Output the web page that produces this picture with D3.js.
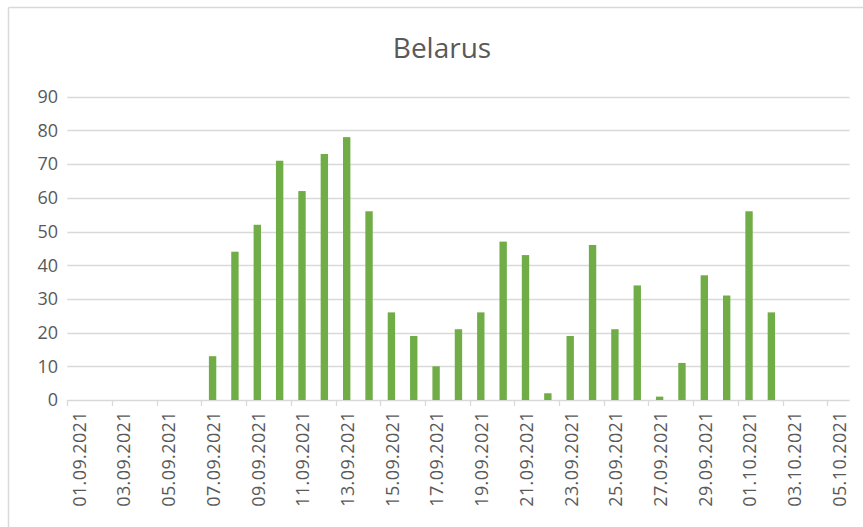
<!DOCTYPE html>
<html>
<head>
<meta charset="utf-8">
<script src="https://cdn.jsdelivr.net/npm/d3@7"></script>
<style>
  html, body { margin: 0; padding: 0; background: #fff; }
  svg { display: block; }
  text { font-family: "Open Sans", "Liberation Sans", sans-serif; fill: #595959; }
</style>
</head>
<body>
<svg id="chart" width="863" height="527"></svg>
<script>
// chart data
const days = [
  "01.09.2021", "02.09.2021", "03.09.2021", "04.09.2021", "05.09.2021",
  "06.09.2021", "07.09.2021", "08.09.2021", "09.09.2021", "10.09.2021",
  "11.09.2021", "12.09.2021", "13.09.2021", "14.09.2021", "15.09.2021",
  "16.09.2021", "17.09.2021", "18.09.2021", "19.09.2021", "20.09.2021",
  "21.09.2021", "22.09.2021", "23.09.2021", "24.09.2021", "25.09.2021",
  "26.09.2021", "27.09.2021", "28.09.2021", "29.09.2021", "30.09.2021",
  "01.10.2021", "02.10.2021", "03.10.2021", "04.10.2021", "05.10.2021"
];
const counts = [
  0, 0, 0, 0, 0,
  0, 13, 44, 52, 71,
  62, 73, 78, 56, 26,
  19, 10, 21, 26, 47,
  43, 2, 19, 46, 21,
  34, 1, 11, 37, 31,
  56, 26, 0, 0, 0
];
const yTicks = [0, 10, 20, 30, 40, 50, 60, 70, 80, 90];
const title = "Belarus";

(function() {
  const svg = d3.select("#chart");
  const left = 67.3, right = 849.6, top = 96.7, bottom = 400;
  const grey = "#d9d9d9";

  // chart area border (cropped screenshot: only top & left visible)
  svg.append("line")
    .attr("x1", 8.5).attr("x2", 863).attr("y1", 7.5).attr("y2", 7.5)
    .attr("stroke", grey).attr("stroke-width", 1.5);
  svg.append("line")
    .attr("x1", 8.5).attr("x2", 8.5).attr("y1", 7.5).attr("y2", 527)
    .attr("stroke", grey).attr("stroke-width", 1.5);

  const x = d3.scaleBand()
    .domain(days)
    .range([left, right])
    .paddingInner(0.67)
    .paddingOuter(0.335);

  // boundaries between days, for tick marks
  const xEdge = d3.scaleLinear()
    .domain([0, days.length])
    .range([left, right]);

  const y = d3.scaleLinear()
    .domain([0, 90])
    .range([bottom, top]);

  // Grid lines + axis line
  svg.append("g")
    .selectAll("line")
    .data(yTicks)
    .enter().append("line")
      .attr("x1", left)
      .attr("x2", right)
      .attr("y1", d => Math.round(y(d)) + 0.5)
      .attr("y2", d => Math.round(y(d)) + 0.5)
      .attr("stroke", grey)
      .attr("stroke-width", 1.3);

  // Y labels
  svg.append("g")
    .selectAll("text")
    .data(yTicks)
    .enter().append("text")
      .attr("x", 58)
      .attr("y", d => y(d))
      .attr("dy", "0.35em")
      .attr("text-anchor", "end")
      .style("font-size", "18px")
      .text(d => d);

  // Tick marks every 2 days
  const tickIdx = d3.range(0, days.length, 2);
  svg.append("g")
    .selectAll("line")
    .data(tickIdx)
    .enter().append("line")
      .attr("x1", i => Math.round(xEdge(i)) + 0.5)
      .attr("x2", i => Math.round(xEdge(i)) + 0.5)
      .attr("y1", bottom)
      .attr("y2", bottom + 6)
      .attr("stroke", grey)
      .attr("stroke-width", 1.3);

  // X labels (rotated)
  svg.append("g")
    .selectAll("text")
    .data(tickIdx)
    .enter().append("text")
      .attr("transform", i => `translate(${x(days[i]) + x.bandwidth() / 2 + 1}, 411) rotate(-90)`)
      .attr("dy", "0.35em")
      .attr("text-anchor", "end")
      .style("font-size", "18px")
      .style("letter-spacing", "0.4px")
      .text(i => days[i]);

  // Bars
  svg.append("g")
    .selectAll("rect")
    .data(days.map((d, i) => ({ day: d, value: counts[i] })))
    .enter().append("rect")
      .attr("x", d => x(d.day))
      .attr("y", d => y(d.value))
      .attr("width", x.bandwidth())
      .attr("height", d => bottom - y(d.value))
      .attr("fill", "#70ad47");

  // Title
  svg.append("text")
    .attr("x", 442)
    .attr("y", 58)
    .attr("text-anchor", "middle")
    .style("font-size", "28px")
    .text(title);
})();
</script>
</body>
</html>
